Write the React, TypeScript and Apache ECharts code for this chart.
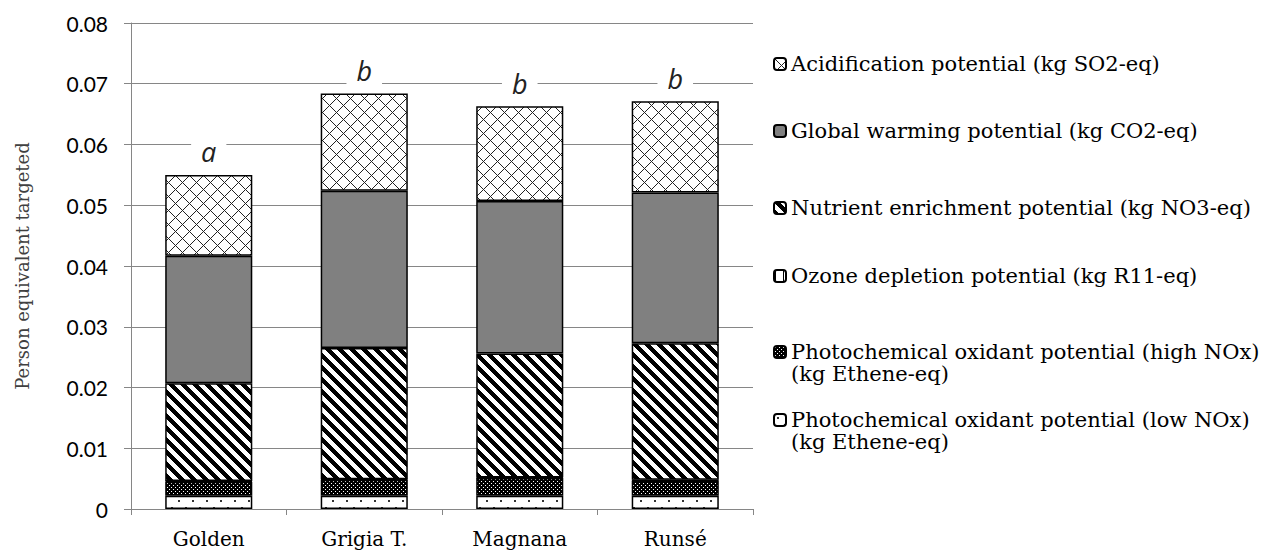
import React, { useEffect, useRef } from 'react';
import * as echarts from 'echarts';

const categories = ['Golden', 'Grigia T.', 'Magnana', 'Runsé'];
const lowNOx = [0.0022, 0.0022, 0.0022, 0.0022];
const highNOx = [0.0023, 0.0026, 0.0029, 0.0025];
const ozone = [0.0001, 0.0001, 0.0001, 0.0001];
const nutrient = [0.0161, 0.0216, 0.0204, 0.0225];
const warming = [0.021, 0.0259, 0.0251, 0.0248];
const acidification = [0.0133, 0.016, 0.0156, 0.015];
const sigLetters = ['a', 'b', 'b', 'b'];

const NAME_ACID = 'Acidification potential (kg SO2-eq)';
const NAME_GWP = 'Global warming potential (kg CO2-eq)';
const NAME_NUT = 'Nutrient enrichment potential (kg NO3-eq)';
const NAME_OZ = 'Ozone depletion potential (kg R11-eq)';
const NAME_HIGH = 'Photochemical oxidant potential (high NOx)\n(kg Ethene-eq)';
const NAME_LOW = 'Photochemical oxidant potential (low NOx)\n(kg Ethene-eq)';

const SERIF = '"DejaVu Serif", serif';

function makePattern(w: number, h: number, bg: string, fn: (x: number, y: number) => string | null) {
  const c = document.createElement('canvas');
  c.width = w;
  c.height = h;
  const ctx = c.getContext('2d')!;
  ctx.fillStyle = bg;
  ctx.fillRect(0, 0, w, h);
  for (let y = 0; y < h; y++) {
    for (let x = 0; x < w; x++) {
      const col = fn(x, y);
      if (col) {
        ctx.fillStyle = col;
        ctx.fillRect(x, y, 1, 1);
      }
    }
  }
  return { image: c, repeat: 'repeat', imageWidth: w, imageHeight: h } as any;
}

export default function App() {
  const ref = useRef<HTMLDivElement>(null);
  useEffect(() => {
    if (!ref.current) return;
    const chart = echarts.init(ref.current, undefined, { renderer: 'svg' });

    const crossHatch = makePattern(14, 14, '#ffffff', (x, y) =>
      (x - y + 14) % 14 === 0 || (x + y) % 14 === 0 ? '#222222' : null
    );
    const stripes = makePattern(12, 12, '#ffffff', (x, y) => (((x - y) % 12) + 12) % 12 < 6 ? '#000000' : null);
    const darkDots = makePattern(4, 4, '#000000', (x, y) => ((x === 1 && y === 1) || (x === 3 && y === 3) ? '#ffffff' : null));
    const lightDots = makePattern(14, 14, '#ffffff', (x, y) =>
      ((x === 3 || x === 4) && (y === 3 || y === 4)) || ((x === 10 || x === 11) && (y === 10 || y === 11)) ? '#333333' : null
    );
    const vLines = makePattern(8, 8, '#ffffff', (x) => (x === 1 ? '#000000' : null));

    const barBase = {
      type: 'bar' as const,
      stack: 'total',
      barCategoryGap: '44%',
      itemStyle: { borderColor: '#000', borderWidth: 1.5 },
    };

    const legendCommon = {
      orient: 'vertical' as const,
      left: 773,
      padding: 0,
      itemWidth: 12,
      itemHeight: 12,
      selectedMode: false,
      textStyle: { fontFamily: SERIF, fontSize: 21, color: '#000', lineHeight: 22 },
    };
    const twoLine = (name: string) => {
      const parts = name.split('\n');
      return ' \n' + parts[0] + '\n' + parts[1];
    };

    const option: any = {
      animation: false,
      backgroundColor: '#fff',
      grid: { left: 131, right: 515, top: 23, bottom: 43, containLabel: false },
      legend: [
        { ...legendCommon, data: [NAME_ACID], top: 64 - 11 },
        { ...legendCommon, data: [NAME_GWP], top: 131 - 11 },
        { ...legendCommon, data: [NAME_NUT], top: 208 - 11 },
        { ...legendCommon, data: [NAME_OZ], top: 276 - 11 },
        { ...legendCommon, data: [NAME_HIGH], top: 352 - 33, formatter: twoLine },
        { ...legendCommon, data: [NAME_LOW], top: 420 - 33, formatter: twoLine },
      ],
      xAxis: {
        type: 'category',
        data: categories,
        axisLine: { lineStyle: { color: '#868686', width: 1 } },
        axisTick: { show: true, length: 6, lineStyle: { color: '#868686' } },
        axisLabel: { margin: 20, fontFamily: SERIF, fontSize: 20, color: '#000' },
      },
      yAxis: {
        type: 'value',
        min: 0,
        max: 0.08,
        interval: 0.01,
        name: 'Person equivalent targeted',
        nameLocation: 'middle',
        nameRotate: 90,
        nameGap: 100,
        nameTextStyle: { fontFamily: SERIF, fontSize: 18, color: '#404040' },
        axisLine: { show: true, lineStyle: { color: '#868686', width: 1 } },
        axisTick: { show: true, length: 7, lineStyle: { color: '#868686' } },
        splitLine: { lineStyle: { color: '#868686', width: 1 } },
        axisLabel: {
          margin: 23,
          fontFamily: 'Lato, sans-serif',
          fontSize: 21,
          color: '#000',
          formatter: (v: number) => (v === 0 ? '0' : v.toFixed(2)),
        },
      },
      series: [
        { ...barBase, name: NAME_LOW, data: lowNOx, itemStyle: { ...barBase.itemStyle, color: lightDots } },
        { ...barBase, name: NAME_HIGH, data: highNOx, itemStyle: { ...barBase.itemStyle, color: darkDots } },
        { ...barBase, name: NAME_OZ, data: ozone, itemStyle: { ...barBase.itemStyle, color: vLines } },
        { ...barBase, name: NAME_NUT, data: nutrient, itemStyle: { ...barBase.itemStyle, color: stripes } },
        { ...barBase, name: NAME_GWP, data: warming, itemStyle: { ...barBase.itemStyle, color: '#808080' } },
        {
          ...barBase,
          name: NAME_ACID,
          data: acidification,
          itemStyle: { ...barBase.itemStyle, color: crossHatch },
          label: {
            show: true,
            position: 'top',
            distance: 8,
            formatter: (p: any) => sigLetters[p.dataIndex],
            fontFamily: '"Open Sans", sans-serif',
            fontStyle: 'italic',
            fontSize: 27,
            color: '#222',
            backgroundColor: '#fff',
            padding: [0, 10, 0, 10],
            lineHeight: 30,
          },
        },
      ],
    };
    chart.setOption(option);
    return () => chart.dispose();
  }, []);
  return <div ref={ref} style={{ position: 'fixed', left: 0, top: 0, width: 1268, height: 552 }} />;
}
